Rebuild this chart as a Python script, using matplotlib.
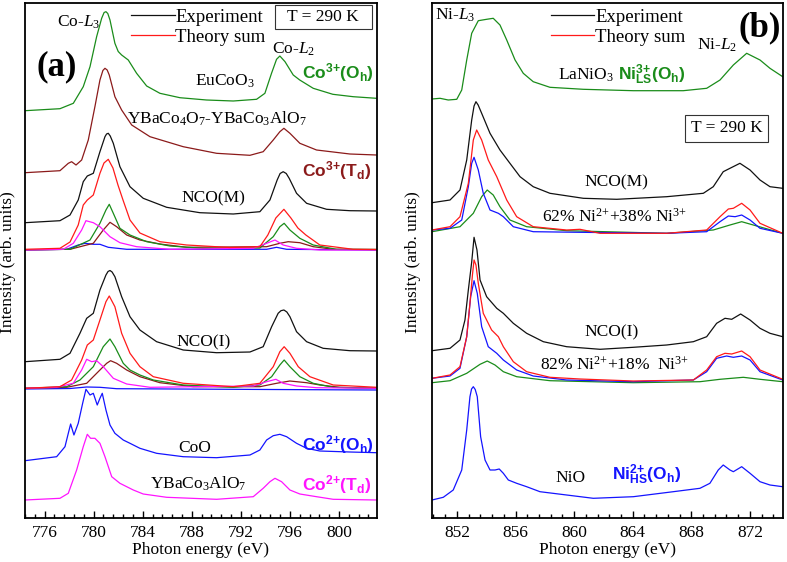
import matplotlib

matplotlib.use("Agg")
import matplotlib.pyplot as plt
import numpy as np
from matplotlib.patches import Rectangle
from matplotlib.ticker import AutoMinorLocator, MultipleLocator

# ---------------- panel (a): Co L2,3 edge, (energy eV, intensity arb. offset) ----------------
eucoo3 = [(774.4, 407.3), (777.25, 409.3), (778.34, 414.7), (779.15, 431.3), (779.7, 451.3), (780.24, 481.3),
          (780.65, 499.7), (780.85, 505.5), (781.0, 506.3), (781.15, 504.5), (781.33, 498), (781.73, 474.7),
          (782.0, 466.5), (782.28, 463), (782.82, 458), (783.5, 444.7), (784.32, 432), (785.4, 424.7),
          (787.03, 420.3), (789.2, 418), (791.38, 417), (793.28, 418.7), (793.96, 424.7), (794.5, 444.7),
          (794.91, 458.7), (795.18, 462), (795.6, 456.3), (796.27, 443), (796.8, 438), (797.9, 429.7),
          (799.5, 423.7), (801.16, 421.3), (803.06, 419.7)]
ybaco4o7 = [(774.4, 345.3), (777.25, 347.3), (777.93, 354.7), (778.2, 356.3), (778.56, 353), (779.02, 358),
            (779.56, 378), (780.1, 411.3), (780.51, 438), (780.75, 447.5), (780.92, 449.7), (781.1, 448),
            (781.27, 443), (781.73, 421.3), (782.28, 408), (783.1, 393), (784.59, 381.3), (787.3, 371.3),
            (790.02, 364.7), (792.74, 362.7), (793.82, 366.3), (794.64, 378), (795.18, 386.3), (795.51, 389.7),
            (796.0, 384.7), (796.81, 374.7), (798.17, 368), (800.89, 364), (803.06, 363)]
nco_m_exp_a = [(774.4, 295.3), (777.25, 297.3), (778.07, 303), (778.74, 318), (779.15, 336.3), (779.48, 342),
               (779.97, 344.7), (780.51, 366.3), (780.92, 381.3), (781.05, 384), (781.19, 384.7), (781.35, 382),
               (781.6, 374.7), (782.14, 351.3), (782.96, 331.3), (784.04, 319.7), (785.95, 310.7), (788.66, 305.3),
               (791.38, 304), (793.55, 306.3), (794.37, 318), (794.96, 338), (795.2, 344.5), (795.45, 346.3),
               (795.7, 344.5), (795.94, 339.7), (796.54, 324.7), (797.36, 314.7), (798.99, 308.7), (800.89, 307.3),
               (803.06, 307)]
nco_m_sum_a = [(774.4, 268.7), (777.25, 269.7), (778.07, 276), (778.74, 293), (779.15, 313), (779.48, 318),
               (779.97, 323), (780.51, 344.7), (780.84, 355), (781.19, 358.7), (781.57, 350), (781.98, 333),
               (782.39, 318), (782.96, 298), (783.77, 285), (785.4, 276.3), (787.58, 273), (791.1, 270.5),
               (793.55, 271.3), (794.2, 283), (794.85, 300), (795.51, 308.7), (796.08, 300), (796.65, 290),
               (797.3, 283), (798.44, 273), (801.16, 268.7), (803.06, 268.5)]
nco_m_oh3_a = [(774.4, 268.2), (778.07, 268.7), (779.7, 278), (780.51, 294.7), (781.0, 308), (781.27, 313.7),
               (781.6, 304.7), (782.14, 289.7), (782.96, 283), (784.32, 276.3), (786.22, 272), (788.93, 269.7),
               (793.55, 270), (794.64, 281.3), (795.18, 291.3), (795.53, 294.7), (796.0, 288), (796.81, 279.7),
               (797.9, 273), (799.8, 268.7), (803.06, 268.5)]
nco_m_td3_a = [(774.4, 268.2), (778.07, 268.7), (779.97, 274.7), (780.78, 288), (781.33, 295.7), (781.87, 291.3),
               (782.69, 283), (783.77, 278), (785.4, 274), (787.58, 270.7), (794.1, 271.3), (795.18, 274.7),
               (795.86, 276.3), (796.81, 275.3), (797.9, 271.3), (799.53, 268.7), (803.06, 268.5)]
nco_m_td2_a = [(774.4, 268), (777.52, 268.7), (778.34, 274.7), (779.02, 288), (779.37, 297.3), (779.97, 295.3),
               (780.51, 291.3), (781.33, 281.3), (782.14, 275.3), (783.5, 271.3), (786.22, 268.7), (793.01, 269.7),
               (794.1, 274.7), (794.78, 278), (795.45, 273), (796.54, 269.7), (798.44, 268), (803.06, 268)]
nco_m_oh2_a = [(774.4, 268), (777.8, 268.7), (778.74, 273), (779.29, 274.7), (779.97, 273.7), (780.51, 273.7),
               (781.19, 270.7), (782.69, 268.7), (794.1, 268.7), (794.91, 270.7), (795.73, 268.7), (803.06, 268)]
nco_i_exp_a = [(774.4, 156.3), (777.25, 158.7), (778.07, 164.7), (778.88, 184.7), (779.43, 199.7), (779.97, 204.7),
               (780.51, 228), (781.0, 243), (781.17, 246.5), (781.33, 247.5), (781.5, 246), (781.73, 241.3),
               (782.28, 221.3), (782.96, 201.3), (783.77, 188), (785.13, 176.3), (787.3, 168), (790.02, 165.3),
               (792.74, 166), (793.82, 171.3), (794.51, 191.3), (795.04, 204.7), (795.27, 207.3), (795.51, 208),
               (795.75, 206), (796.0, 201.3), (796.54, 186.3), (797.36, 176.3), (798.71, 169.7), (800.89, 167.3),
               (803.06, 167)]
nco_i_sum_a = [(774.4, 129.7), (777.25, 131.3), (778.2, 138), (779.02, 158), (779.48, 173), (779.97, 178),
               (780.51, 198), (781.0, 216.3), (781.27, 222), (781.73, 211.3), (782.28, 184.7), (782.96, 164.7),
               (783.77, 151.3), (784.86, 141.3), (787.3, 134.7), (791.38, 131.3), (793.55, 134.7), (794.64, 151.3),
               (795.18, 166.3), (795.53, 171.3), (796.0, 164.7), (796.68, 151.3), (797.63, 141.3), (799.53, 133),
               (803.06, 130.7)]
nco_i_oh3_a = [(774.4, 129.7), (777.8, 131.3), (778.88, 138), (779.97, 151.3), (780.78, 171.3), (781.33, 179),
               (781.73, 171.3), (782.41, 154.7), (782.96, 148), (783.77, 143), (784.86, 138), (787.3, 133),
               (791.38, 130.7), (793.55, 133), (794.51, 141.3), (795.18, 153), (795.53, 158), (796.0, 151.3),
               (796.81, 141.3), (797.9, 134.7), (799.53, 130.7), (803.06, 129.7)]
nco_i_td3_a = [(774.4, 129.7), (777.8, 130.7), (779.43, 134.7), (780.51, 148), (781.06, 154.7), (781.38, 157.3),
               (781.87, 154.7), (782.69, 148), (783.77, 141.3), (785.4, 135.3), (788.12, 131.3), (793.55, 131.3),
               (794.91, 134.7), (795.99, 137), (797.36, 135.3), (798.44, 133), (800.07, 130.7), (803.06, 129.7)]
nco_i_td2_a = [(774.4, 129.7), (776.98, 130.7), (778.34, 134.7), (779.02, 148), (779.43, 158.7), (779.84, 156.3),
               (780.24, 157.3), (780.78, 151.3), (781.6, 139.7), (782.69, 134), (784.59, 130.7), (793.01, 132),
               (794.1, 136.3), (794.86, 138.7), (795.45, 134.7), (796.54, 132), (798.17, 130.3), (803.06, 129.7)]
nco_i_oh2_a = [(774.4, 129), (778.07, 129.5), (779.43, 131), (780.51, 130.7), (781.87, 129.3), (794.37, 128.5),
               (803.06, 128)]
coo = [(774.4, 57.3), (776.98, 61.3), (777.66, 71.3), (777.93, 84.7), (778.12, 94), (778.39, 83), (778.74, 94.7),
       (779.1, 114.7), (779.37, 128.7), (779.7, 123), (779.97, 124.7), (780.29, 113), (780.51, 119.7),
       (780.7, 124.7), (781.0, 108), (781.33, 93), (781.73, 84.7), (782.41, 78), (782.96, 74.7), (783.77, 69.7),
       (785.13, 64.7), (787.3, 61.3), (790.02, 60.3), (792.74, 63), (793.55, 68), (794.1, 78), (794.64, 82.3),
       (795.18, 83.7), (795.73, 81.3), (796.54, 74.7), (797.36, 69.7), (798.44, 67), (800.89, 66), (803.06, 65.3)]
ybaco3alo7 = [(774.4, 18), (777.25, 19.7), (777.93, 24.7), (778.61, 48), (779.15, 71.3), (779.48, 83.7),
              (779.75, 79.7), (780.1, 79.7), (780.51, 74.7), (780.92, 61.3), (781.47, 41.3), (782.14, 34.7),
              (783.23, 28), (784.04, 24), (785.95, 20.7), (790.02, 18.7), (793.01, 21.3), (793.82, 29.7),
              (794.37, 36.3), (794.78, 39.7), (795.32, 36.3), (796.0, 28), (796.81, 24), (798.17, 21.3),
              (799.53, 18.7), (803.06, 18)]

# ---------------- panel (b): Ni L2,3 edge ----------------
lanio3 = [(850.3, 419), (850.85, 419.7), (851.41, 418), (851.99, 418.7), (852.33, 428), (852.67, 458), (853.01, 484.7),
          (853.46, 497.3), (854.03, 498.7), (854.48, 499.7), (854.94, 493), (855.4, 478), (855.97, 458),
          (856.53, 444.7), (857.21, 436.3), (858.35, 430.7), (860.63, 428.7), (864.04, 427.3), (867.45, 427.3),
          (869.05, 429.7), (869.96, 438), (870.87, 453), (871.78, 464.7), (872.69, 458), (873.37, 449.7),
          (874.24, 441.3)]
nco_m_exp_b = [(850.3, 315.3), (851.53, 318), (852.21, 328), (852.67, 358), (853.01, 398), (853.17, 412),
               (853.3, 416.3), (853.45, 413), (853.69, 404.7), (854.26, 384.7), (854.94, 368), (855.62, 354.7),
               (856.31, 341.3), (857.21, 331.3), (858.35, 324.7), (860.63, 319.7), (862.91, 318.7), (866.32, 321.3),
               (868.82, 324.7), (869.5, 331.3), (870.18, 346.3), (870.64, 349.7), (871.32, 354.7), (872.01, 348),
               (872.69, 338), (873.37, 331.3), (874.24, 329.7)]
nco_m_sum_b = [(850.3, 288), (851.53, 291.3), (852.21, 301.3), (852.78, 334.7), (853.12, 378), (853.35, 388),
               (853.69, 378), (854.14, 358), (854.72, 341.3), (855.4, 318), (856.08, 301.3), (857.21, 291.3),
               (859.49, 288), (860.4, 288.7), (861.77, 284.7), (866.32, 284.7), (869.05, 288), (869.96, 301.3),
               (870.53, 309), (870.87, 309.7), (871.44, 314.7), (872.01, 308), (872.69, 294.7), (874.24, 284.7)]
nco_m_ni2_b = [(850.3, 288), (851.53, 289.7), (852.33, 298), (852.78, 331.3), (853.01, 354.7), (853.17, 360.7),
               (853.46, 348), (853.8, 324.7), (854.26, 308), (854.83, 304.7), (855.17, 301.3), (855.85, 291.3),
               (857.21, 286.3), (860.4, 285.7), (866.32, 284.7), (869.05, 286.3), (869.96, 296.3), (870.53, 302),
               (870.99, 301.3), (871.44, 303), (872.01, 298), (872.69, 289.7), (874.24, 284.7)]
nco_m_ni3_b = [(850.3, 286.3), (852.21, 291.3), (853.12, 304.7), (853.69, 321.3), (854.07, 328), (854.48, 323),
               (854.94, 311.3), (855.62, 298), (856.76, 291.3), (859.49, 287.3), (866.32, 284.7), (869.5, 288),
               (870.64, 293), (871.44, 296.3), (872.23, 293), (874.24, 284.7)]
nco_i_exp_b = [(850.3, 167.3), (851.53, 169.7), (852.21, 178), (852.55, 198), (852.78, 228), (853.01, 256),
               (853.17, 280.7), (853.37, 268), (853.58, 238), (854.03, 221.3), (854.72, 209.7), (855.17, 204.7),
               (855.85, 194.7), (856.76, 184.7), (857.9, 176.3), (859.49, 171.3), (861.77, 168.7), (864.04, 170.7),
               (866.32, 173), (868.14, 176.3), (869.05, 181.3), (869.73, 194.7), (870.3, 199.7), (870.76, 198.7),
               (871.37, 204), (872.01, 198), (872.69, 189.7), (873.37, 184.7), (874.24, 181.3)]
nco_i_sum_b = [(850.3, 139.7), (851.53, 143), (852.21, 151.3), (852.67, 181.3), (852.89, 214.7), (853.06, 243),
               (853.17, 258), (853.3, 253), (853.46, 234.7), (853.8, 204.7), (854.37, 188), (854.83, 181.3),
               (855.17, 171.3), (855.85, 156.3), (856.76, 146.3), (858.35, 140.7), (860.4, 139), (864.04, 137),
               (868.14, 138), (869.05, 148), (869.73, 161.3), (870.3, 164.7), (870.76, 164), (871.44, 167),
               (872.01, 161.3), (872.69, 148), (874.24, 138.7)]
nco_i_ni2_b = [(850.3, 139.7), (851.53, 142), (852.21, 149.7), (852.67, 181.3), (852.94, 221.3), (853.17, 237.3),
               (853.39, 224.7), (853.69, 191.3), (854.14, 171.3), (854.72, 164.7), (855.17, 158), (856.08, 148),
               (857.21, 142), (859.49, 138), (864.04, 136.3), (868.14, 138), (869.05, 146.3), (869.73, 159.7),
               (870.41, 162), (870.87, 160.7), (871.44, 162), (872.01, 158), (872.69, 146.3), (874.24, 138)]
nco_i_ni3_b = [(850.3, 135.3), (851.53, 137.3), (852.67, 144.7), (853.58, 153.7), (854.07, 157), (854.6, 153),
               (855.17, 146.3), (856.08, 141.3), (858.35, 137.3), (864.04, 135.3), (868.59, 136.3), (869.96, 138.7),
               (871.55, 140.7), (872.69, 138.7), (874.24, 136.3)]
nio = [(850.3, 18), (851.07, 20.7), (851.75, 28), (852.33, 48), (852.67, 88), (852.89, 121.3), (853.0, 129),
       (853.12, 131.3), (853.25, 128.5), (853.39, 121.3), (853.62, 81.3), (853.92, 58), (854.26, 48), (854.6, 48),
       (854.89, 49), (855.17, 44.7), (855.51, 38), (856.08, 34.7), (856.76, 31.3), (857.67, 26.3), (859.49, 23),
       (861.31, 19.7), (864.04, 21.3), (866.77, 26.3), (868.59, 29.7), (869.27, 34.7), (869.84, 48), (870.18, 53),
       (870.64, 48), (870.87, 46.3), (871.44, 51.3), (872.01, 44.7), (872.69, 36.3), (873.37, 33), (874.24, 31.3)]

GREEN = "#1a8c1a"
BROWN = "#8b1a1a"
BLUE = "#1414ff"
MAGENTA = "#ff14ff"
RED = "#ff1a1a"
BLACK = "#111111"

plt.rcParams["font.family"] = ["Liberation Serif", "DejaVu Serif"]
plt.rcParams["font.size"] = 12.5
plt.rcParams["mathtext.fontset"] = "custom"
plt.rcParams["mathtext.rm"] = "Liberation Serif"
plt.rcParams["mathtext.it"] = "Liberation Serif:italic"
plt.rcParams["mathtext.bf"] = "Liberation Serif:bold"
plt.rcParams["mathtext.sf"] = "Liberation Sans:bold"


def curve(ax, data, color, label=None):
    arr = np.array(data)
    ax.plot(arr[:, 0], arr[:, 1], color=color, lw=0.9, label=label, solid_joinstyle="round")


def style(ax, xlim):
    ax.set_xlim(*xlim)
    ax.set_ylim(0, 515)
    ax.xaxis.set_major_locator(MultipleLocator(4))
    ax.xaxis.set_minor_locator(AutoMinorLocator(5))
    ax.tick_params(axis="x", which="both", direction="in", top=False, width=1.0, pad=5)
    ax.tick_params(axis="x", which="major", length=5)
    ax.tick_params(axis="x", which="minor", length=3)
    ax.tick_params(axis="y", left=False, labelleft=False)
    for sp in ax.spines.values():
        sp.set_linewidth(1.3)
    ax.set_xlabel("Photon energy (eV)", labelpad=1)


fig = plt.figure(figsize=(7.87, 5.62), dpi=100)
ax_a = fig.add_axes([25 / 787, 44 / 562, 352 / 787, 515 / 562])
ax_b = fig.add_axes([432 / 787, 44 / 562, 351 / 787, 515 / 562])

# panel (a)
curve(ax_a, eucoo3, GREEN)
curve(ax_a, ybaco4o7, BROWN)
curve(ax_a, nco_m_exp_a, BLACK, "Experiment")
for data, col in [(nco_m_oh2_a, BLUE), (nco_m_td3_a, BROWN), (nco_m_oh3_a, GREEN), (nco_m_td2_a, MAGENTA)]:
    curve(ax_a, data, col)
curve(ax_a, nco_m_sum_a, RED, "Theory sum")
curve(ax_a, nco_i_exp_a, BLACK)
for data, col in [(nco_i_oh2_a, BLUE), (nco_i_td3_a, BROWN), (nco_i_oh3_a, GREEN), (nco_i_td2_a, MAGENTA)]:
    curve(ax_a, data, col)
curve(ax_a, nco_i_sum_a, RED)
curve(ax_a, coo, BLUE)
curve(ax_a, ybaco3alo7, MAGENTA)
style(ax_a, (774.4, 803.1))

# panel (b)
curve(ax_b, lanio3, GREEN)
curve(ax_b, nco_m_exp_b, BLACK, "Experiment")
curve(ax_b, nco_m_ni3_b, GREEN)
curve(ax_b, nco_m_ni2_b, BLUE)
curve(ax_b, nco_m_sum_b, RED, "Theory sum")
curve(ax_b, nco_i_exp_b, BLACK)
curve(ax_b, nco_i_ni3_b, GREEN)
curve(ax_b, nco_i_ni2_b, BLUE)
curve(ax_b, nco_i_sum_b, RED)
curve(ax_b, nio, BLUE)
style(ax_b, (850.3, 874.26))

for ax, x0 in [(ax_a, 0.297), (ax_b, 0.334)]:
    ax.legend(loc="upper left", bbox_to_anchor=(x0, 0.993), frameon=False, borderpad=0.1, borderaxespad=0,
              handlelength=2.3, handletextpad=0.05, labelspacing=0.17, fontsize=13.5)

# "T = 290 K" boxes
ax_a.add_patch(Rectangle((794.77, 488.7), 7.91, 24.3, fill=False, lw=0.8, ec="#333333"))
ax_a.text(798.72, 500.8, "T = 290 K", ha="center", va="center")
ax_b.add_patch(Rectangle((867.57, 376), 5.67, 27, fill=False, lw=0.8, ec="#333333"))
ax_b.text(870.4, 389.5, "T = 290 K", ha="center", va="center")

# panel (a) annotations
ax_a.text(775.35, 443, "(a)", fontsize=25, fontweight="bold")
ax_a.text(777.03, 491.3, r"Co-$\mathit{L}_3$")
ax_a.text(794.5, 464.7, r"Co-$\mathit{L}_2$")
ax_a.text(788.26, 432, r"EuCoO$_3$")
ax_a.text(782.69, 394.7, r"YBaCo$_4$O$_7$-YBaCo$_3$AlO$_7$")
ax_a.text(787.17, 315.7, "NCO(M)")
ax_a.text(786.76, 172, "NCO(I)")
ax_a.text(786.9, 66.3, "CoO")
ax_a.text(784.59, 29.7, r"YBaCo$_3$AlO$_7$")
for y, s, col in [(439.7, r"$\mathsf{Co^{3{+}}(O_h)}$", GREEN), (341.3, r"$\mathsf{Co^{3{+}}(T_d)}$", BROWN),
                  (68, r"$\mathsf{Co^{2{+}}(O_h)}$", BLUE), (28, r"$\mathsf{Co^{2{+}}(T_d)}$", MAGENTA)]:
    ax_a.text(796.95, y, s, color=col, fontsize=12.5)

# panel (b) annotations
ax_b.text(871.21, 481.3, "(b)", fontsize=25, fontweight="bold")
ax_b.text(850.5, 498, r"Ni-$\mathit{L}_3$")
ax_b.text(868.37, 468, r"Ni-$\mathit{L}_2$")
ax_b.text(858.92, 438, r"LaNiO$_3$")
ax_b.text(863.02, 438, r"$\mathsf{Ni^{3{+}}_{LS}(O_h)}$", color=GREEN, fontsize=12.5)
ax_b.text(860.74, 331.3, "NCO(M)")
ax_b.text(857.79, 296.3, r"62% Ni$^{2{+}}$+38% Ni$^{3{+}}$")
ax_b.text(860.74, 181.3, "NCO(I)")
ax_b.text(857.67, 148, r"82% Ni$^{2{+}}$+18%  Ni$^{3{+}}$")
ax_b.text(858.7, 36.3, "NiO")
ax_b.text(862.57, 38, r"$\mathsf{Ni^{2{+}}_{HS}(O_h)}$", color=BLUE, fontsize=12.5)

fig.text(8 / 787, 1 - 262 / 562, "Intensity (arb. units)", rotation=90, ha="center", va="center")
fig.text(413 / 787, 1 - 262 / 562, "Intensity (arb. units)", rotation=90, ha="center", va="center")

fig.savefig("out.png", dpi=100)
